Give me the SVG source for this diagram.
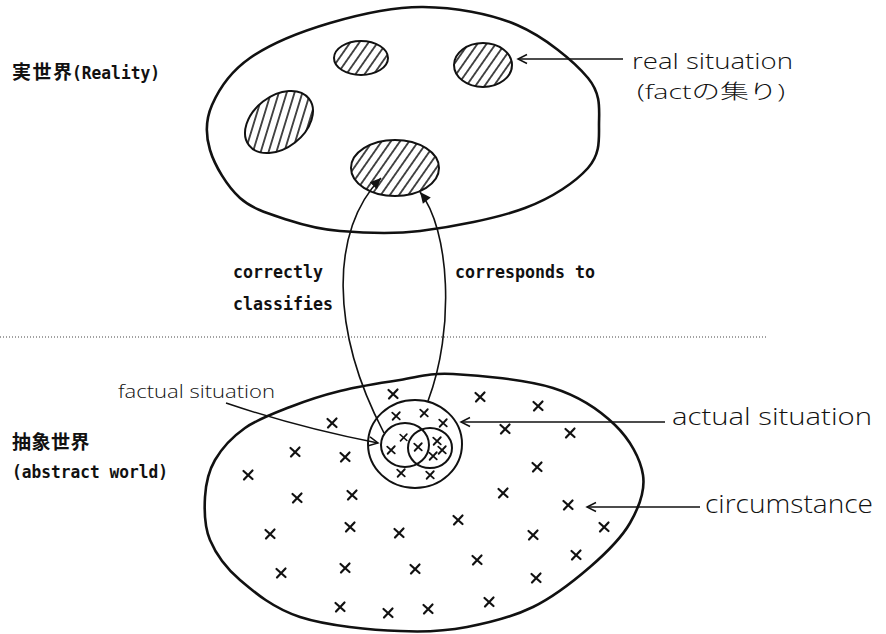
<svg xmlns="http://www.w3.org/2000/svg" width="886" height="634" viewBox="0 0 886 634">
<style>
.lbl{font-family:"DejaVu Sans Mono","Liberation Mono","Noto Sans CJK JP",monospace;font-weight:bold;font-size:18.5px;fill:#111}
.cjk{font-family:"Noto Sans CJK JP",sans-serif;font-weight:bold;font-size:19px;fill:#111}
.hand{font-family:"Open Sans","Noto Sans CJK JP",sans-serif;font-weight:300;fill:#111}
.big{fill:none;stroke:#111;stroke-width:2.6;stroke-linejoin:round}
.blob{stroke:#111;stroke-width:2}
.circ{fill:none;stroke:#111;stroke-width:2}
.conn{fill:none;stroke:#111;stroke-width:1.6}
.thin{fill:none;stroke:#111;stroke-width:1.5}
</style>
<defs>
<pattern id="h1" patternUnits="userSpaceOnUse" width="7.5" height="10" patternTransform="rotate(35)">
<line x1="3.75" y1="-1" x2="3.75" y2="11" stroke="#111" stroke-width="1.5"/>
</pattern>
<pattern id="h2" patternUnits="userSpaceOnUse" width="7.5" height="10" patternTransform="rotate(55)">
<line x1="3.75" y1="-1" x2="3.75" y2="11" stroke="#111" stroke-width="1.5"/>
</pattern>
<marker id="open" viewBox="-11 -7 13 14" refX="0" refY="0" markerWidth="13" markerHeight="14" markerUnits="userSpaceOnUse" orient="auto">
<path d="M-9,-4.5 L0,0 L-9,4.5" fill="none" stroke="#111" stroke-width="1.5"/>
</marker>
<marker id="solid" viewBox="-12 -7 14 14" refX="0" refY="0" markerWidth="14" markerHeight="14" markerUnits="userSpaceOnUse" orient="auto">
<path d="M-11,-5 L0,0 L-11,5 Z" fill="#111"/>
</marker>
<symbol id="x" viewBox="-6 -6 12 12" width="12" height="12" overflow="visible">
<path d="M-4.5,-4 L4.5,4 M4.5,-4.5 L-4,4.5" fill="none" stroke="#111" stroke-width="2.2" stroke-linecap="round"/>
</symbol>
</defs>

<!-- Reality world -->
<g id="reality">
<path class="big" d="M423,7 C454.2,7.3 489.5,13.2 517,25 C544.5,36.8 574.3,61.3 588,78 C601.7,94.7 599,110 599,125 C599,140 600.3,154.2 588,168 C575.7,181.8 553,197.5 525,208 C497,218.5 450.8,227.2 420,231 C389.2,234.8 362,232.8 340,231 C318,229.2 304.7,225.5 288,220 C271.3,214.5 253,209.7 240,198 C227,186.3 214.7,165.5 210,150 C205.3,134.5 205.3,120.3 212,105 C218.7,89.7 230.3,71.7 250,58 C269.7,44.3 301.2,31.5 330,23 C358.8,14.5 391.8,6.7 423,7 Z"/>
<text class="cjk" x="12" y="79" letter-spacing="1.5">実世界</text>
<text class="lbl" x="72" y="79" textLength="88" lengthAdjust="spacingAndGlyphs">(Reality)</text>
</g>
<g id="blob1"><ellipse class="blob" cx="361" cy="58" rx="27" ry="17" fill="url(#h1)"/></g>
<g id="blob2"><ellipse class="blob" cx="483" cy="65" rx="29" ry="22" fill="url(#h1)"/></g>
<g id="blob3"><ellipse class="blob" cx="279" cy="122" rx="38" ry="26" transform="rotate(-38 279 122)" fill="url(#h2)"/></g>
<g id="blob4"><ellipse class="blob" cx="395" cy="168" rx="44" ry="28" fill="url(#h1)"/></g>

<!-- separator -->
<line x1="0" y1="337" x2="768" y2="337" stroke="#444" stroke-width="1" stroke-dasharray="1,2"/>

<!-- Abstract world -->
<g id="abstract">
<path class="big" d="M453,374 C478.5,375.3 526,379.5 553,388 C580,396.5 600,410.5 615,425 C630,439.5 640.5,458.7 643,475 C645.5,491.3 638.8,507.7 630,523 C621.2,538.3 606.2,553 590,567 C573.8,581 553.5,597 533,607 C512.5,617 489.2,622.8 467,627 C444.8,631.2 427.8,632.5 400,631 C372.2,630.3 326.7,625.7 300,617 C273.3,608.3 255,592.8 240,580 C225,567.2 215.8,553.8 210,540 C204.2,526.2 204.2,510.3 205,497 C205.8,483.7 208.3,471.5 215,460 C221.7,448.5 232.5,436.8 245,428 C257.5,419.2 274.2,413.2 290,407 C305.8,400.8 321.7,395.5 340,391 C358.3,386.5 381.2,382.8 400,380 C418.8,377.2 427.5,372.7 453,374 Z"/>
<text class="cjk" x="12" y="449" letter-spacing="0.5">抽象世界</text>
<text class="lbl" x="12" y="478" textLength="156" lengthAdjust="spacingAndGlyphs">(abstract world)</text>
</g>
<g id="actual-situation"><ellipse class="circ" cx="415" cy="444" rx="47" ry="44"/></g>
<g id="factual-left"><ellipse class="circ" cx="405" cy="445" rx="24" ry="22"/></g>
<g id="factual-right"><ellipse class="circ" cx="430" cy="448" rx="22" ry="20"/></g>

<g id="crosses">
<use href="#x" x="387" y="388"/>
<use href="#x" x="474" y="391"/>
<use href="#x" x="532" y="400"/>
<use href="#x" x="326" y="417"/>
<use href="#x" x="499" y="423"/>
<use href="#x" x="564" y="427"/>
<use href="#x" x="289" y="446"/>
<use href="#x" x="339" y="451"/>
<use href="#x" x="242" y="469"/>
<use href="#x" x="531" y="461"/>
<use href="#x" x="291" y="492"/>
<use href="#x" x="346" y="489"/>
<use href="#x" x="497" y="487"/>
<use href="#x" x="562" y="499"/>
<use href="#x" x="264" y="528"/>
<use href="#x" x="344" y="521"/>
<use href="#x" x="393" y="527"/>
<use href="#x" x="452" y="514"/>
<use href="#x" x="527" y="529"/>
<use href="#x" x="598" y="521"/>
<use href="#x" x="275" y="567"/>
<use href="#x" x="339" y="562"/>
<use href="#x" x="409" y="563"/>
<use href="#x" x="471" y="554"/>
<use href="#x" x="570" y="549"/>
<use href="#x" x="530" y="572"/>
<use href="#x" x="334" y="601"/>
<use href="#x" x="382" y="607"/>
<use href="#x" x="422" y="603"/>
<use href="#x" x="483" y="596"/>
<use href="#x" x="391" y="411" width="10" height="10"/>
<use href="#x" x="419" y="408" width="10" height="10"/>
<use href="#x" x="438" y="418" width="10" height="10"/>
<use href="#x" x="396" y="468" width="10" height="10"/>
<use href="#x" x="425" y="470" width="10" height="10"/>
<use href="#x" x="386" y="445" width="10" height="10"/>
<use href="#x" x="399" y="433" width="9" height="9"/>
<use href="#x" x="413" y="442" width="10" height="10"/>
<use href="#x" x="432" y="436" width="10" height="10"/>
<use href="#x" x="428" y="451" width="10" height="10"/>
<use href="#x" x="437" y="445" width="10" height="10"/>
</g>

<g id="connectors">
<path class="conn" d="M384,433 C330,330 330,230 381,178" marker-end="url(#solid)"/>
<path class="conn" d="M428,401 C455,330 450,230 420,192" marker-end="url(#solid)"/>
<line class="thin" x1="623" y1="59" x2="518" y2="59" marker-end="url(#open)"/>
<line class="thin" x1="665" y1="422" x2="461" y2="422" marker-end="url(#open)"/>
<line class="thin" x1="700" y1="507" x2="587" y2="507" marker-end="url(#open)"/>
<path class="thin" d="M226,403 Q300,428 378,443" marker-end="url(#open)"/>
</g>

<g id="labels">
<text class="lbl" x="233" y="278" textLength="90" lengthAdjust="spacingAndGlyphs">correctly</text>
<text class="lbl" x="233" y="310" textLength="100" lengthAdjust="spacingAndGlyphs">classifies</text>
<text class="lbl" x="455" y="278" textLength="140" lengthAdjust="spacingAndGlyphs">corresponds to</text>
<text class="hand" x="632" y="69" font-size="22" textLength="161" lengthAdjust="spacingAndGlyphs">real situation</text>
<text class="hand" x="637" y="99" font-size="20" textLength="148" lengthAdjust="spacingAndGlyphs">(factの集り)</text>
<text class="hand" x="672" y="425" font-size="24" textLength="200" lengthAdjust="spacingAndGlyphs">actual situation</text>
<text class="hand" x="705" y="513" font-size="25" textLength="168" lengthAdjust="spacingAndGlyphs">circumstance</text>
<text class="hand" x="118" y="398" font-size="18" textLength="157" lengthAdjust="spacingAndGlyphs">factual situation</text>
</g>
</svg>
